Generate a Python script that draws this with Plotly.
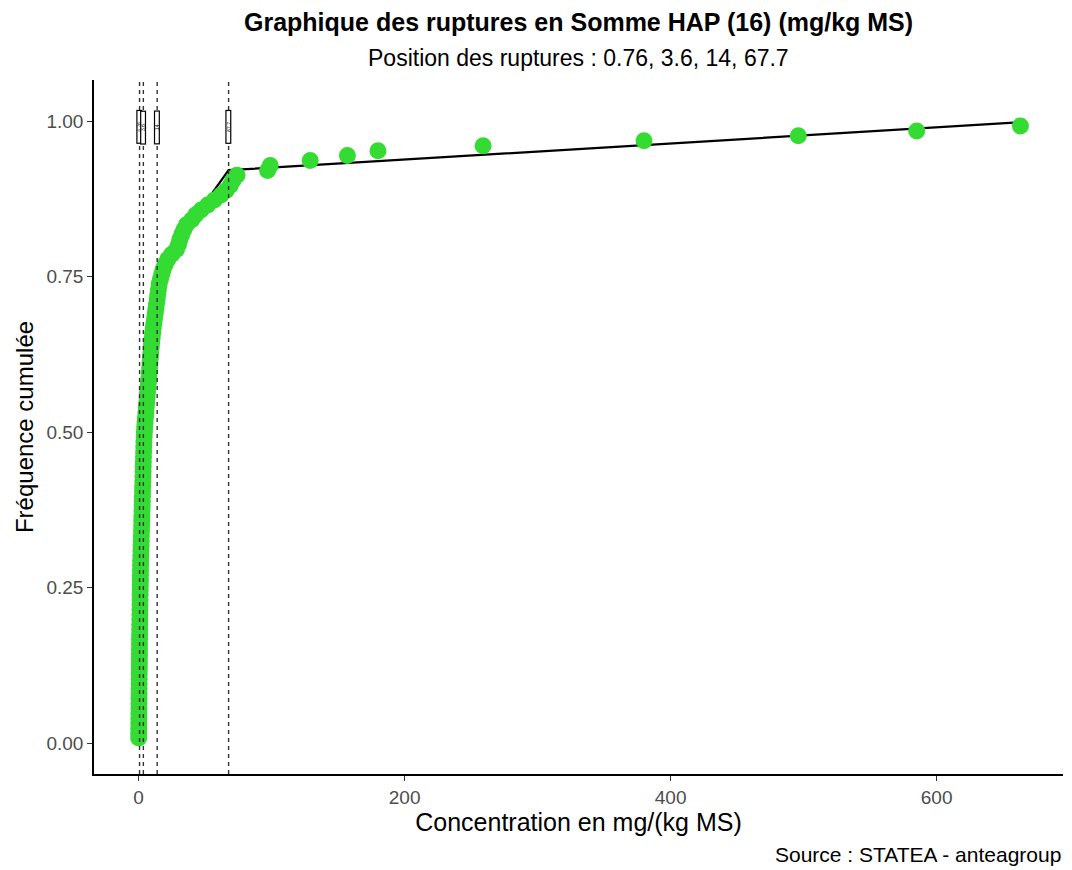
import numpy as np
import plotly.graph_objects as go

# Concentrations of Somme HAP (16), sorted ascending (mg/kg MS)
conc_low = [0.1, 0.1, 0.15, 0.2, 0.2, 0.25, 0.3, 0.3, 0.35, 0.4, 0.4, 0.45, 0.5, 0.5,
            0.55, 0.6, 0.6, 0.65, 0.7, 0.7, 0.75, 0.8, 0.85, 0.9, 0.95, 1.0, 1.05, 1.1, 1.15]
conc_mid = [1.2, 1.25, 1.3, 1.35, 1.4, 1.45, 1.5, 1.6, 1.7, 1.8, 1.9, 2.0, 2.1, 2.2, 2.3,
            2.4, 2.5, 2.6, 2.7, 2.8, 2.9, 3.0, 3.1, 3.2, 3.3, 3.4, 3.5, 3.6, 3.7, 3.8, 3.9,
            4.0, 4.2, 4.4, 4.6, 4.9, 5.2, 5.5, 5.8, 6.1, 6.4, 6.7, 7.0, 7.4, 7.7, 8.0, 8.3,
            8.6, 8.9, 9.2, 9.5, 9.8, 10.2, 10.6, 11, 11.5, 12, 12.5, 13, 13.5, 14, 14.5, 15,
            15.5, 16.5, 17.5, 18.5, 20, 22, 25, 28.5, 30, 31, 32.5, 34, 36, 40, 43, 47, 52,
            57, 62, 66, 69, 71, 74]
conc_high = [97, 99, 129, 157, 180, 259, 380, 496, 585, 663]
concentration = np.array(conc_low + conc_mid + conc_high)

# Empirical cumulative frequency
n = len(concentration)
freq = np.arange(1, n + 1) / (n + 1)

# Segmented fit: break positions and fitted values at each node
breaks = [0.76, 3.6, 14, 67.7]
fit_x = [0.1, 0.76, 3.6, 14, 67.7, 663]
fit_y = [0.0, 0.17, 0.46, 0.76, 0.921, 0.998]

x_ticks = [0, 200, 400, 600]
y_ticks = [0, 0.25, 0.5, 0.75, 1.0]

FONT = "Liberation Sans, Arial, sans-serif"
GREEN = "#33DB33"

fig = go.Figure()

fig.add_trace(go.Scatter(
    x=fit_x, y=fit_y, mode="lines",
    line=dict(color="black", width=2.2),
    showlegend=False, hoverinfo="skip"))

fig.add_trace(go.Scatter(
    x=concentration, y=freq, mode="markers",
    marker=dict(color=GREEN, size=17, line=dict(width=0)),
    showlegend=False))

# Dashed vertical lines at the break positions, with small rotated labels
for b in breaks:
    fig.add_shape(type="line", xref="x", yref="paper", x0=b, x1=b, y0=0, y1=1,
                  line=dict(color="#333333", width=1.4, dash="4px,4px"))
    fig.add_annotation(x=b, y=0.99, xref="x", yref="y", text=str(b),
                       showarrow=False, textangle=-90,
                       font=dict(family=FONT, size=5, color="black"),
                       width=32, height=4, borderpad=0,
                       bordercolor="black", borderwidth=1.2, bgcolor="white")

# Title, subtitle and caption
fig.add_annotation(
    text="<b>Graphique des ruptures en Somme HAP (16) (mg/kg MS)</b>",
    xref="paper", yref="paper", x=0.5, y=1.0836, xanchor="center", yanchor="middle",
    showarrow=False, font=dict(family=FONT, size=25, color="black"))
fig.add_annotation(
    text="Position des ruptures : " + ", ".join(str(b) for b in breaks),
    xref="paper", yref="paper", x=0.5, y=1.0317, xanchor="center", yanchor="middle",
    showarrow=False, font=dict(family=FONT, size=23, color="black"))
fig.add_annotation(
    text="Source : STATEA - anteagroup", xref="paper", yref="paper",
    x=1, y=-0.1167, xanchor="right", yanchor="middle", showarrow=False,
    font=dict(family=FONT, size=21, color="black"))

fig.update_layout(
    width=1072, height=870,
    margin=dict(l=94, r=9, t=80, b=96),
    paper_bgcolor="white", plot_bgcolor="white",
    font=dict(family=FONT),
    xaxis=dict(
        range=[-33.5, 695], tickvals=x_ticks, showgrid=False, zeroline=False,
        showline=True, linecolor="black", linewidth=1.5,
        ticks="outside", ticklen=5, tickcolor="#333333", tickwidth=1.2,
        tickfont=dict(family=FONT, size=19, color="#4d4d4d"),
        title=dict(text="Concentration en mg/(kg MS)",
                   font=dict(family=FONT, size=25, color="black"), standoff=5)),
    yaxis=dict(
        range=[-0.0498, 1.066], tickvals=y_ticks, tickformat=".2f",
        showgrid=False, zeroline=False,
        showline=True, linecolor="black", linewidth=1.5,
        ticks="outside", ticklen=5, tickcolor="#333333", tickwidth=1.2,
        tickfont=dict(family=FONT, size=19, color="#4d4d4d"),
        title=dict(text="Fréquence cumulée",
                   font=dict(family=FONT, size=24, color="black"), standoff=6)),
)

fig.write_html("out.html")
